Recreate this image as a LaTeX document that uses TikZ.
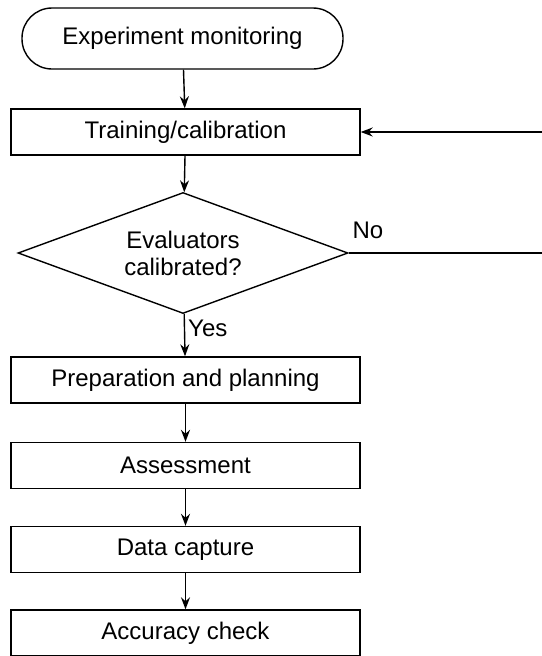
\documentclass[tikz,border=0pt]{standalone}
\usepackage{fontspec}
\setmainfont{Liberation Sans}
\usetikzlibrary{shapes.geometric,arrows.meta}

\begin{document}
\begin{tikzpicture}[x=1pt,y=-1pt,
        font=\fontsize{24}{27}\selectfont,
        flow/.style={line width=1.4pt,-{Stealth[length=12pt,width=9pt,inset=4pt]}},
        procbox/.style={draw,line width=1.4pt,minimum width=349pt,minimum height=46pt,inner sep=0pt},
        termbox/.style={draw,line width=1.4pt,rounded corners=30pt,minimum width=321pt,minimum height=61pt,inner sep=0pt},
        decbox/.style={draw,line width=1.4pt,diamond,aspect=2.7,minimum width=330pt,minimum height=121pt,inner sep=0pt,align=center}]
        \useasboundingbox (0,0) rectangle (541,656);

        % Start and calibration loop
        \node[termbox] (start) at (182.5,38.5) {Experiment monitoring};
        \node[procbox] (train) at (185.5,132) {Training/calibration};
        \node[decbox] (check) at (183,253) {Evaluators\\calibrated?};

        % Main sequence
        \node[procbox] (prep) at (185.5,380) {Preparation and planning};
        \node[procbox] (assess) at (185.5,465.5) {Assessment};
        \node[procbox] (capture) at (185.5,549.5) {Data capture};
        \node[procbox] (accuracy) at (185.5,633) {Accuracy check};

        % Labels
        \node (nolabel) at (368,230) {No};
        \node[anchor=west,inner sep=2pt] (yeslabel) at (186,328) {Yes};

        % Connectors
        \draw[flow] (start) -- (train);
        \draw[flow] (train) -- (check);
        \draw[flow] (check) -- (prep);
        \draw[flow] (prep) -- (assess);
        \draw[flow] (assess) -- (capture);
        \draw[flow] (capture) -- (accuracy);

        % Back to calibration (leaves the picture on the right)
        \coordinate (noend) at (548,253);
        \coordinate (backend) at (548,132);
        \draw[flow] (check.east) -- (noend) -- (backend) -- (train.east);
    \end{tikzpicture}
\end{document}
